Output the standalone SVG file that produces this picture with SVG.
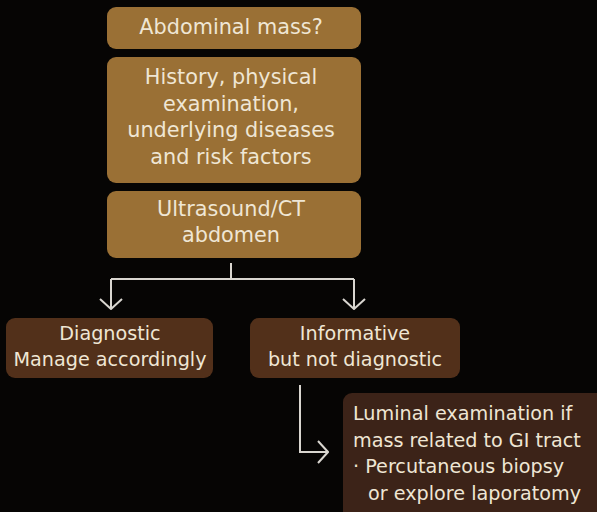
<svg xmlns="http://www.w3.org/2000/svg" width="597" height="512" viewBox="0 0 597 512">
  <style>
    .bg { fill: #060504; }
    .top { fill: #9a7035; }
    .low { fill: #52301a; }
    .note { fill: #3c2318; }
    text { font-family: "DejaVu Sans", "Noto Sans", sans-serif; font-size: 19.2px; fill: #efe6d4; }
    .big { font-size: 20.8px; }
    .c { text-anchor: middle; }
    .wire { fill: none; stroke: #d9d6d0; stroke-width: 2; }
  </style>
  <defs>
    <marker id="vee" viewBox="0 0 12 24" refX="11" refY="12" markerWidth="12" markerHeight="24" markerUnits="userSpaceOnUse" orient="auto">
      <path d="M1 1 L11 12 L1 23" fill="none" stroke="#d9d6d0" stroke-width="2"/>
    </marker>
  </defs>

  <rect class="bg" x="0" y="0" width="597" height="512"/>

  <g id="connectors">
    <path class="wire" d="M231 263 V279"/>
    <path class="wire" d="M111 279 H354"/>
    <path class="wire" d="M111 279 V309" marker-end="url(#vee)"/>
    <path class="wire" d="M354 279 V309" marker-end="url(#vee)"/>
    <path class="wire" d="M300 385 V452 H328" marker-end="url(#vee)"/>
  </g>

  <g id="abdominal-mass">
    <rect class="top" x="107" y="7" width="254" height="42" rx="9"/>
    <text class="c big" x="231" y="34">Abdominal mass?</text>
  </g>

  <g id="history">
    <rect class="top" x="107" y="57" width="254" height="126" rx="9"/>
    <text class="c big" x="231" y="84">History, physical</text>
    <text class="c big" x="231" y="110.5">examination,</text>
    <text class="c big" x="231" y="137">underlying diseases</text>
    <text class="c big" x="231" y="163.5">and risk factors</text>
  </g>

  <g id="imaging">
    <rect class="top" x="107" y="191" width="254" height="67" rx="9"/>
    <text class="c big" x="231" y="216">Ultrasound/CT</text>
    <text class="c big" x="231" y="242">abdomen</text>
  </g>

  <g id="diagnostic">
    <rect class="low" x="6" y="318" width="207" height="60" rx="9"/>
    <text class="c" x="110" y="340">Diagnostic</text>
    <text class="c" x="110" y="366">Manage accordingly</text>
  </g>

  <g id="informative">
    <rect class="low" x="250" y="318" width="210" height="60" rx="9"/>
    <text class="c" x="355" y="340">Informative</text>
    <text class="c" x="355" y="366">but not diagnostic</text>
  </g>

  <g id="next-steps">
    <rect class="note" x="343" y="393" width="264" height="130" rx="9"/>
    <text x="353" y="420">Luminal examination if</text>
    <text x="353" y="446.5">mass related to GI tract</text>
    <text x="353" y="473">· Percutaneous biopsy</text>
    <text x="368" y="499.5">or explore laporatomy</text>
  </g>
</svg>
